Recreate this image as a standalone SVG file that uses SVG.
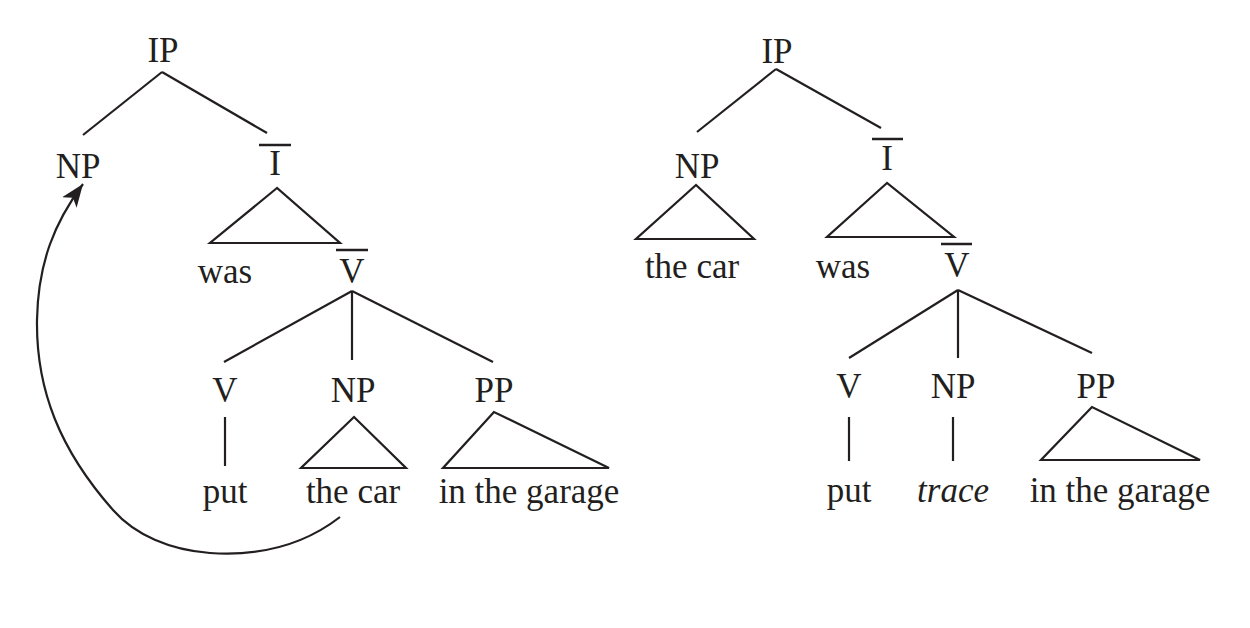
<svg xmlns="http://www.w3.org/2000/svg" width="1250" height="628" viewBox="0 0 1250 628">
<style>
text{font-family:'Liberation Serif','DejaVu Serif',serif;font-size:35px;fill:#231f20;text-anchor:middle}
.it{font-style:italic}
line,polygon,path{stroke:#231f20;stroke-width:2.2;fill:none}
.bar{stroke-width:2.5}
</style>
<defs>
<marker id="ah" markerUnits="userSpaceOnUse" markerWidth="26" markerHeight="20" refX="23" refY="10" orient="auto">
<path d="M0,1 L23,10 L0,19 L6,10 z" style="fill:#231f20;stroke:none"/>
</marker>
</defs>
<rect width="1250" height="628" fill="#fff"/>
<g id="left-tree">
<g id="L-IP"><text x="163" y="62">IP</text></g>
<g id="L-NP"><text x="78" y="178">NP</text></g>
<g id="L-Ibar"><text x="275" y="175">I</text><line class="bar" x1="259" y1="145" x2="291" y2="145"/></g>
<g id="L-was"><polygon points="277,188 210,243 340,243"/><text x="225" y="283">was</text></g>
<g id="L-Vbar"><text x="352" y="283">V</text><line class="bar" x1="336" y1="250" x2="368" y2="250"/></g>
<g id="L-V"><text x="225" y="402">V</text></g>
<g id="L-NP2"><text x="353" y="402">NP</text></g>
<g id="L-PP"><text x="494" y="402">PP</text></g>
<g id="L-put"><text x="225" y="503">put</text></g>
<g id="L-thecar"><polygon points="354,417 301,468 406,468"/><text x="353" y="503">the car</text></g>
<g id="L-garage"><polygon points="494,412 443,468 609,468"/><text x="529" y="503">in the garage</text></g>
</g>
<g id="right-tree">
<g id="R-IP"><text x="777" y="63">IP</text></g>
<g id="R-NP"><text x="697" y="178">NP</text></g>
<g id="R-thecar"><polygon points="696,185 636,239 754,239"/><text x="692" y="278">the car</text></g>
<g id="R-Ibar"><text x="887" y="170">I</text><line class="bar" x1="872" y1="139" x2="903" y2="139"/></g>
<g id="R-was"><polygon points="887,183 827,237 954,237"/><text x="843" y="278">was</text></g>
<g id="R-Vbar"><text x="957" y="277">V</text><line class="bar" x1="941" y1="244" x2="972" y2="244"/></g>
<g id="R-V"><text x="849" y="398">V</text></g>
<g id="R-NP2"><text x="953" y="398">NP</text></g>
<g id="R-PP"><text x="1096" y="398">PP</text></g>
<g id="R-put"><text x="849" y="502">put</text></g>
<g id="R-trace"><text class="it" x="953" y="502">trace</text></g>
<g id="R-garage"><polygon points="1092,407 1041,460 1200,460"/><text x="1120" y="502">in the garage</text></g>
</g>
<g id="connectors">
<line x1="162" y1="72" x2="83" y2="135"/>
<line x1="162" y1="72" x2="267" y2="133"/>
<line x1="352" y1="291" x2="224" y2="362"/>
<line x1="352" y1="291" x2="352" y2="360"/>
<line x1="352" y1="291" x2="493" y2="362"/>
<line x1="225" y1="417" x2="225" y2="466"/>
<line x1="776" y1="69" x2="697" y2="132"/>
<line x1="776" y1="69" x2="881" y2="128"/>
<line x1="958" y1="290" x2="849" y2="358"/>
<line x1="958" y1="290" x2="958" y2="358"/>
<line x1="958" y1="290" x2="1092" y2="353"/>
<line x1="849" y1="417" x2="849" y2="461"/>
<line x1="953" y1="417" x2="953" y2="461"/>
<path d="M340,517 C300,548 255,556 210,553 C170,550 135,535 113,510 C60,450 36,390 37,320 C38,262 55,222 83,184" marker-end="url(#ah)"/>
</g>
</svg>
